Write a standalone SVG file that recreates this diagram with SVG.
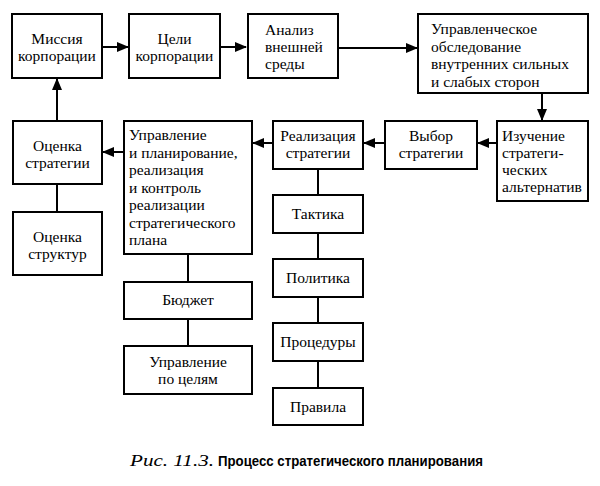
<svg xmlns="http://www.w3.org/2000/svg" width="600" height="486" viewBox="0 0 600 486">
<style>
.box{fill:#fff;stroke:#000;stroke-width:2}
.t{font-family:"Liberation Serif","DejaVu Serif",serif;font-size:15.5px;fill:#000}
.c{text-anchor:middle}
.ln{stroke:#000;stroke-width:2;fill:none}
.ar{marker-end:url(#ah)}
</style>
<defs>
<marker id="ah" markerUnits="userSpaceOnUse" markerWidth="12" markerHeight="10" refX="11" refY="5" orient="auto">
<path d="M0,0 L12,5 L0,10 Z" fill="#000"/>
</marker>
</defs>
<rect width="600" height="486" fill="#fff"/>
<g id="connectors">
<line class="ln ar" x1="102" y1="47" x2="128" y2="47"/>
<line class="ln ar" x1="220" y1="47" x2="246" y2="47"/>
<line class="ln ar" x1="338" y1="48" x2="417" y2="48"/>
<line class="ln ar" x1="542" y1="93" x2="542" y2="120"/>
<line class="ln ar" x1="497" y1="143" x2="478" y2="143"/>
<line class="ln ar" x1="385" y1="143" x2="364" y2="143"/>
<line class="ln ar" x1="273" y1="143" x2="253" y2="143"/>
<line class="ln ar" x1="124" y1="152" x2="103" y2="152"/>
<line class="ln ar" x1="57" y1="121" x2="57" y2="79"/>
<line class="ln" x1="57" y1="184" x2="57" y2="212"/>
<line class="ln" x1="318" y1="169" x2="318" y2="195"/>
<line class="ln" x1="318" y1="233" x2="318" y2="259"/>
<line class="ln" x1="318" y1="297" x2="318" y2="323"/>
<line class="ln" x1="318" y1="361" x2="318" y2="388"/>
<line class="ln" x1="188" y1="254" x2="188" y2="282"/>
<line class="ln" x1="188" y1="319" x2="188" y2="346"/>
</g>
<g id="mission">
<rect class="box" x="12" y="14" width="90" height="64"/>
<text class="t c" x="57" y="44">Миссия</text>
<text class="t c" x="57" y="61">корпорации</text>
</g>
<g id="goals">
<rect class="box" x="129" y="14" width="91" height="64"/>
<text class="t c" x="174.5" y="44">Цели</text>
<text class="t c" x="174.5" y="61">корпорации</text>
</g>
<g id="analysis">
<rect class="box" x="248" y="14" width="90" height="64"/>
<text class="t" x="265" y="35">Анализ</text>
<text class="t" x="265" y="52">внешней</text>
<text class="t" x="265" y="69">среды</text>
</g>
<g id="survey">
<rect class="box" x="418" y="14" width="170" height="79"/>
<text class="t" x="431" y="34">Управленческое</text>
<text class="t" x="431" y="51.5">обследование</text>
<text class="t" x="431" y="69">внутренних сильных</text>
<text class="t" x="431" y="86.5">и слабых сторон</text>
</g>
<g id="alternatives">
<rect class="box" x="497" y="121" width="91" height="80"/>
<text class="t" x="502" y="141">Изучение</text>
<text class="t" x="502" y="158">стратеги-</text>
<text class="t" x="502" y="175">ческих</text>
<text class="t" x="502" y="192">альтернатив</text>
</g>
<g id="choice">
<rect class="box" x="385" y="121" width="92" height="48"/>
<text class="t c" x="431" y="141">Выбор</text>
<text class="t c" x="431" y="158">стратегии</text>
</g>
<g id="implementation">
<rect class="box" x="273" y="121" width="90" height="48"/>
<text class="t c" x="318" y="141">Реализация</text>
<text class="t c" x="318" y="158">стратегии</text>
</g>
<g id="management">
<rect class="box" x="124" y="121" width="128" height="133"/>
<text class="t" x="129" y="140">Управление</text>
<text class="t" x="129" y="157.5">и планирование,</text>
<text class="t" x="129" y="175">реализация</text>
<text class="t" x="129" y="192.5">и контроль</text>
<text class="t" x="129" y="210">реализации</text>
<text class="t" x="129" y="227.5">стратегического</text>
<text class="t" x="129" y="245">плана</text>
</g>
<g id="eval-strategy">
<rect class="box" x="13" y="121" width="89" height="63"/>
<text class="t c" x="57.5" y="151">Оценка</text>
<text class="t c" x="57.5" y="168">стратегии</text>
</g>
<g id="eval-structure">
<rect class="box" x="13" y="212" width="89" height="63"/>
<text class="t c" x="57.5" y="242">Оценка</text>
<text class="t c" x="57.5" y="259">структур</text>
</g>
<g id="tactics">
<rect class="box" x="273" y="195" width="90" height="38"/>
<text class="t c" x="318" y="219">Тактика</text>
</g>
<g id="policy">
<rect class="box" x="273" y="259" width="90" height="38"/>
<text class="t c" x="318" y="283">Политика</text>
</g>
<g id="procedures">
<rect class="box" x="273" y="323" width="90" height="38"/>
<text class="t c" x="318" y="347">Процедуры</text>
</g>
<g id="rules">
<rect class="box" x="273" y="388" width="90" height="37"/>
<text class="t c" x="318" y="411.5">Правила</text>
</g>
<g id="budget">
<rect class="box" x="124" y="282" width="128" height="37"/>
<text class="t c" x="188" y="305">Бюджет</text>
</g>
<g id="mbo">
<rect class="box" x="124" y="346" width="128" height="48"/>
<text class="t c" x="188" y="367">Управление</text>
<text class="t c" x="188" y="384">по целям</text>
</g>
<g id="caption">
<text x="130" y="466" font-family="Liberation Serif, serif" font-style="italic" font-size="17" textLength="84" lengthAdjust="spacingAndGlyphs">Рис. 11.3.</text>
<text x="218" y="466" font-family="Liberation Sans, Arial, sans-serif" font-weight="bold" font-size="15.5" textLength="265" lengthAdjust="spacingAndGlyphs">Процесс стратегического планирования</text>
</g>
</svg>
